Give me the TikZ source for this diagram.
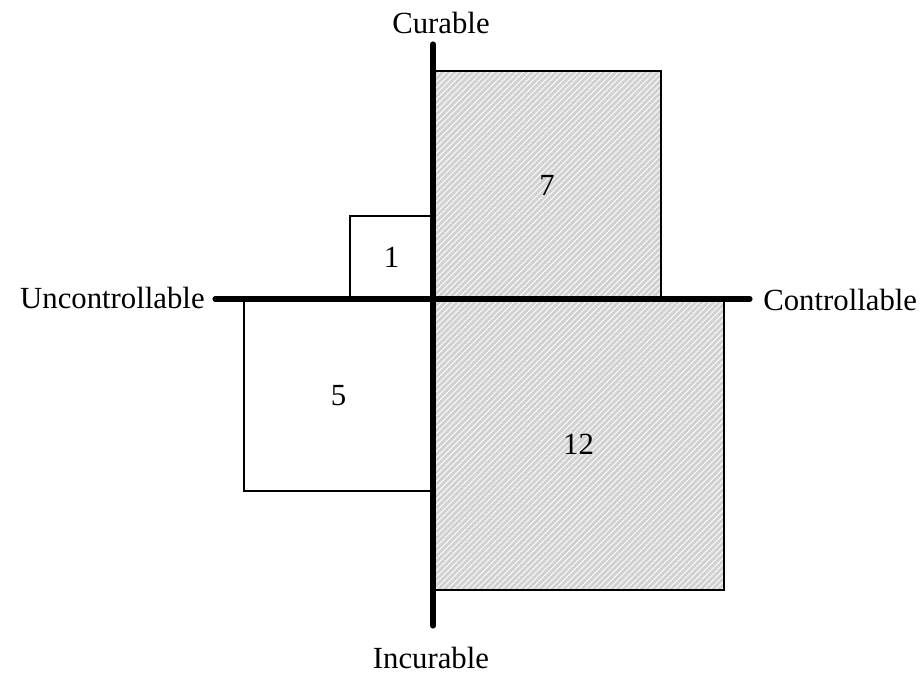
\documentclass[tikz,border=0pt]{standalone}
\usepackage{fontspec}
\setmainfont{Liberation Serif}
\usetikzlibrary{positioning, patterns.meta}

\begin{document}
\begin{tikzpicture}[x=0.02cm, y=-0.02cm,
    axis/.style={line width=2.9pt, line cap=round},
    plain/.style={draw, line width=1.1pt, fill=white, inner sep=0pt},
    hatched/.style={draw, line width=1.1pt, inner sep=0pt, preaction={fill=gray!35},
      pattern={Lines[angle=45, distance=2.4pt, line width=0.5pt]}, pattern color=white},
    lbl/.style={font=\fontsize{17.5}{20}\selectfont, inner sep=0pt}]
    \useasboundingbox (0,0) rectangle (924,673);

    % quadrant boxes
    \node[hatched, minimum width=4.56cm, minimum height=4.56cm, font=\fontsize{17.5}{20}\selectfont] (q7) at (547,185) {7};
    \node[hatched, minimum width=5.82cm, minimum height=5.82cm, font=\fontsize{17.5}{20}\selectfont] (q12) at (578.5,444.5) {12};
    \node[plain, minimum width=1.66cm, minimum height=1.66cm, font=\fontsize{17.5}{20}\selectfont] (q1) at (391.5,257.5) {1};
    \node[plain, minimum width=3.78cm, minimum height=3.8cm, font=\fontsize{17.5}{20}\selectfont] (q5) at (338.5,396) {5};

    % axes
    \coordinate (top) at (433,44);
    \coordinate (bottom) at (433,626);
    \coordinate (left) at (215,299);
    \coordinate (right) at (750,299);
    \draw[axis] (top) -- (bottom);
    \draw[axis] (left) -- (right);

    \node[lbl] (curable) at (441,23) {Curable};
    \node[lbl] (incurable) at (431,658) {Incurable};
    \node[lbl, anchor=east] (unctrl) at (205,298) {Uncontrollable};
    \node[lbl, anchor=west] (ctrl) at (763,300) {Controllable};
\end{tikzpicture}
\end{document}
